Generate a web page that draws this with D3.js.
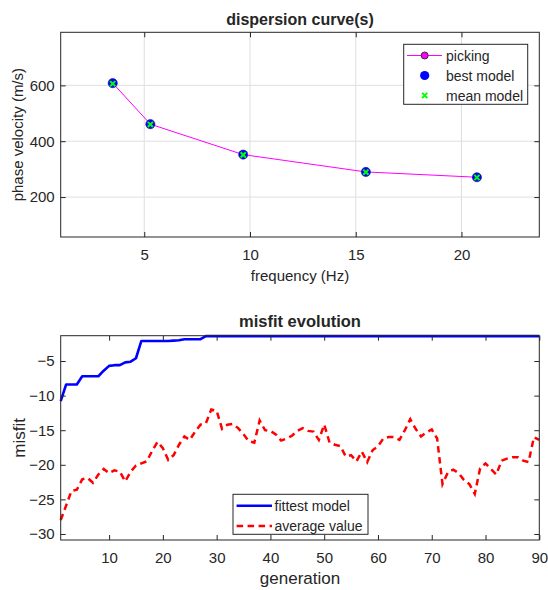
<!DOCTYPE html>
<html>
<head>
<meta charset="utf-8">
<script src="https://cdn.jsdelivr.net/npm/d3@7"></script>
<style>
  body { margin: 0; background: #fff; }
  svg text { font-family: "Liberation Sans", Arial, sans-serif; fill: #262626; }
</style>
</head>
<body>
<div id="chart"></div>
<script>
// ---- data ----
const freqHz = [3.51, 5.29, 9.68, 15.48, 20.73];
const pickingVel = [608, 461, 352, 290, 271];
const bestModelVel = [608, 461, 352, 290, 271];
const meanModelVel = [606, 460, 351, 289, 270];
const freqTicks = [5, 10, 15, 20];
const velTicks = [200, 400, 600];

const generations = d3.range(1, 91);
const fittestMisfit = [
  -10.8, -8.4, -8.4, -8.4, -7.2, -7.2, -7.2, -7.2, -6.4, -5.7,
  -5.6, -5.6, -5.2, -5.1, -4.6, -2.1, -2.1, -2.1, -2.1, -2.1,
  -2.1, -2.05, -2.0, -1.85, -1.85, -1.85, -1.85, -1.4, -1.4, -1.4,
  -1.4, -1.4, -1.4, -1.4, -1.4, -1.4, -1.4, -1.4, -1.4, -1.4,
  -1.4, -1.4, -1.4, -1.4, -1.4, -1.4, -1.4, -1.4, -1.4, -1.4,
  -1.4, -1.4, -1.4, -1.4, -1.4, -1.4, -1.4, -1.4, -1.4, -1.4,
  -1.4, -1.4, -1.4, -1.4, -1.4, -1.4, -1.4, -1.4, -1.4, -1.4,
  -1.4, -1.4, -1.4, -1.4, -1.4, -1.4, -1.4, -1.4, -1.4, -1.4,
  -1.4, -1.4, -1.4, -1.4, -1.4, -1.4, -1.4, -1.4, -1.4, -1.4
];
const averageMisfit = [
  -28.0, -25.9, -23.8, -23.6, -22.1, -21.9, -22.6, -21.4, -20.6, -21.2,
  -20.8, -21.0, -22.4, -21.0, -20.1, -19.8, -19.5, -18.0, -16.7, -17.6,
  -19.3, -18.6, -17.1, -15.9, -16.4, -15.2, -14.2, -14.0, -12.0, -12.2,
  -14.8, -14.2, -14.1, -14.7, -15.6, -16.6, -16.8, -13.6, -15.0, -15.1,
  -15.6, -16.5, -16.2, -15.8, -15.1, -14.7, -15.1, -15.2, -16.4, -14.2,
  -16.8, -17.1, -17.3, -18.8, -18.6, -19.5, -18.1, -19.6, -17.9, -17.3,
  -16.2, -16.0, -16.0, -16.4, -15.0, -13.4, -14.8, -15.9, -15.3, -14.9,
  -16.2, -22.8, -21.1, -20.7, -21.2, -22.2, -22.8, -24.2, -20.5, -19.8,
  -20.6, -21.4, -19.4, -19.1, -18.9, -18.9, -19.4, -19.6, -16.0, -16.4
];
const genTicks = [10, 20, 30, 40, 50, 60, 70, 80, 90];
const misfitTicks = [-30, -25, -20, -15, -10, -5];

// ---- layout ----
const width = 548, height = 590;
const left = 60.7, right = 539.3;
const axisColor = '#262626';
const tick = 5;

const svg = d3.select('#chart').append('svg')
  .attr('width', width).attr('height', height);

function grid(g, x, y, top, bottom, xt, yt) {
  g.append('g').selectAll('line').data(xt).enter().append('line')
    .attr('x1', d => x(d)).attr('x2', d => x(d))
    .attr('y1', top).attr('y2', bottom)
    .attr('stroke', '#dfdfdf').attr('stroke-width', 1);
  g.append('g').selectAll('line').data(yt).enter().append('line')
    .attr('x1', left).attr('x2', right)
    .attr('y1', d => y(d)).attr('y2', d => y(d))
    .attr('stroke', '#dfdfdf').attr('stroke-width', 1);
}

function axes(g, x, y, top, bottom, xt, yt) {
  const style = sel => {
    sel.select('.domain').remove();
    sel.selectAll('line').attr('stroke', axisColor);
    sel.selectAll('text').style('font-size', '15px').attr('fill', axisColor);
  };
  g.append('g').attr('transform', `translate(0,${bottom})`)
    .call(d3.axisBottom(x).tickValues(xt).tickSize(-tick).tickPadding(12).tickFormat(d3.format('d')))
    .call(style);
  g.append('g').attr('transform', `translate(0,${top})`)
    .call(d3.axisTop(x).tickValues(xt).tickSize(-tick).tickFormat(''))
    .call(style);
  g.append('g').attr('transform', `translate(${left},0)`)
    .call(d3.axisLeft(y).tickValues(yt).tickSize(-tick).tickPadding(6).tickFormat(d3.format('d')))
    .call(style);
  g.append('g').attr('transform', `translate(${right},0)`)
    .call(d3.axisRight(y).tickValues(yt).tickSize(-tick).tickFormat(''))
    .call(style);
  g.append('rect')
    .attr('x', left).attr('y', top)
    .attr('width', right - left).attr('height', bottom - top)
    .attr('fill', 'none').attr('stroke', axisColor).attr('stroke-width', 1);
}

function xMark(g, cx, cy, s) {
  g.append('path')
    .attr('d', `M${cx - s},${cy - s}L${cx + s},${cy + s}M${cx - s},${cy + s}L${cx + s},${cy - s}`)
    .attr('stroke', '#00ff00').attr('stroke-width', 2).attr('fill', 'none');
}

// ================= dispersion curve(s) =================
const top1 = 32.3, bottom1 = 237;
const x1 = d3.scaleLinear().domain([1.05, 23.68]).range([left, right]);
const y1 = d3.scaleLinear().domain([57, 790]).range([bottom1, top1]);
const g1 = svg.append('g');

grid(g1, x1, y1, top1, bottom1, freqTicks, velTicks);

const pickLine = d3.line().x((d, i) => x1(freqHz[i])).y(d => y1(d));
g1.append('path')
  .attr('d', pickLine(pickingVel))
  .attr('fill', 'none').attr('stroke', '#ff00ff').attr('stroke-width', 1);

g1.selectAll('.pick').data(pickingVel).enter().append('circle')
  .attr('class', 'pick')
  .attr('cx', (d, i) => x1(freqHz[i])).attr('cy', d => y1(d)).attr('r', 3.5)
  .attr('fill', '#ff00ff').attr('stroke', '#333');

g1.selectAll('.best').data(bestModelVel).enter().append('circle')
  .attr('class', 'best')
  .attr('cx', (d, i) => x1(freqHz[i])).attr('cy', d => y1(d)).attr('r', 4.6)
  .attr('fill', '#0000ff').attr('stroke', '#1a1a8a').attr('stroke-width', 0.6);

meanModelVel.forEach((d, i) => xMark(g1, x1(freqHz[i]), y1(d), 2.6));

axes(g1, x1, y1, top1, bottom1, freqTicks, velTicks);

g1.append('text')
  .attr('x', (left + right) / 2).attr('y', 25)
  .attr('text-anchor', 'middle')
  .style('font-size', '16px').style('font-weight', 'bold').attr('fill', '#000')
  .text('dispersion curve(s)');

g1.append('text')
  .attr('x', (left + right) / 2).attr('y', 281)
  .attr('text-anchor', 'middle').style('font-size', '15px')
  .text('frequency (Hz)');

g1.append('text')
  .attr('transform', `translate(23,${(top1 + bottom1) / 2}) rotate(-90)`)
  .attr('text-anchor', 'middle').style('font-size', '15px')
  .text('phase velocity (m/s)');

// legend
const leg1 = g1.append('g');
leg1.append('rect')
  .attr('x', 403.7).attr('y', 44.3).attr('width', 124).attr('height', 60)
  .attr('fill', '#fff').attr('stroke', axisColor).attr('stroke-width', 1);
const legRows1 = [
  { label: 'picking', y: 55.5 },
  { label: 'best model', y: 75.5 },
  { label: 'mean model', y: 95.5 }
];
leg1.append('line')
  .attr('x1', 407).attr('x2', 442).attr('y1', legRows1[0].y).attr('y2', legRows1[0].y)
  .attr('stroke', '#ff00ff').attr('stroke-width', 1);
leg1.append('circle')
  .attr('cx', 424.7).attr('cy', legRows1[0].y).attr('r', 3.5)
  .attr('fill', '#ff00ff').attr('stroke', '#333');
leg1.append('circle')
  .attr('cx', 424.7).attr('cy', legRows1[1].y).attr('r', 4.6)
  .attr('fill', '#0000ff');
xMark(leg1, 424.7, legRows1[2].y, 2.6);
leg1.selectAll('text').data(legRows1).enter().append('text')
  .attr('x', 446).attr('y', d => d.y).attr('dy', '0.36em')
  .style('font-size', '14px').attr('fill', '#000')
  .text(d => d.label);

// ================= misfit evolution =================
const top2 = 335.7, bottom2 = 540;
const x2 = d3.scaleLinear().domain([1, 90]).range([left, right]);
const y2 = d3.scaleLinear().domain([-30.87, -1.34]).range([bottom2, top2]);
const g2 = svg.append('g');

const misLine = d3.line().x((d, i) => x2(generations[i])).y(d => y2(d));

g2.append('path')
  .attr('d', misLine(averageMisfit))
  .attr('fill', 'none').attr('stroke', '#ff0000').attr('stroke-width', 2.5)
  .attr('stroke-dasharray', '6.5,4.5');

g2.append('path')
  .attr('d', misLine(fittestMisfit))
  .attr('fill', 'none').attr('stroke', '#0000ff').attr('stroke-width', 2.6)
  .attr('stroke-linejoin', 'round');

axes(g2, x2, y2, top2, bottom2, genTicks, misfitTicks);

g2.append('text')
  .attr('x', (left + right) / 2).attr('y', 327)
  .attr('text-anchor', 'middle')
  .style('font-size', '16.5px').style('font-weight', 'bold').attr('fill', '#000')
  .text('misfit evolution');

g2.append('text')
  .attr('x', (left + right) / 2).attr('y', 584)
  .attr('text-anchor', 'middle').style('font-size', '17px')
  .text('generation');

g2.append('text')
  .attr('transform', `translate(25,${(top2 + bottom2) / 2}) rotate(-90)`)
  .attr('text-anchor', 'middle').style('font-size', '17px')
  .text('misfit');

// legend
const leg2 = g2.append('g');
leg2.append('rect')
  .attr('x', 233).attr('y', 494.3).attr('width', 135).attr('height', 40)
  .attr('fill', '#fff').attr('stroke', axisColor).attr('stroke-width', 1);
const legRows2 = [
  { label: 'fittest model', y: 505.7, color: '#0000ff', dash: null },
  { label: 'average value', y: 526, color: '#ff0000', dash: '6.5,4.5' }
];
legRows2.forEach(r => {
  leg2.append('line')
    .attr('x1', 236.6).attr('x2', 272).attr('y1', r.y).attr('y2', r.y)
    .attr('stroke', r.color).attr('stroke-width', 2.6)
    .attr('stroke-dasharray', r.dash);
});
leg2.selectAll('text').data(legRows2).enter().append('text')
  .attr('x', 274.5).attr('y', d => d.y).attr('dy', '0.36em')
  .style('font-size', '14px').attr('fill', '#000')
  .text(d => d.label);
</script>
</body>
</html>
